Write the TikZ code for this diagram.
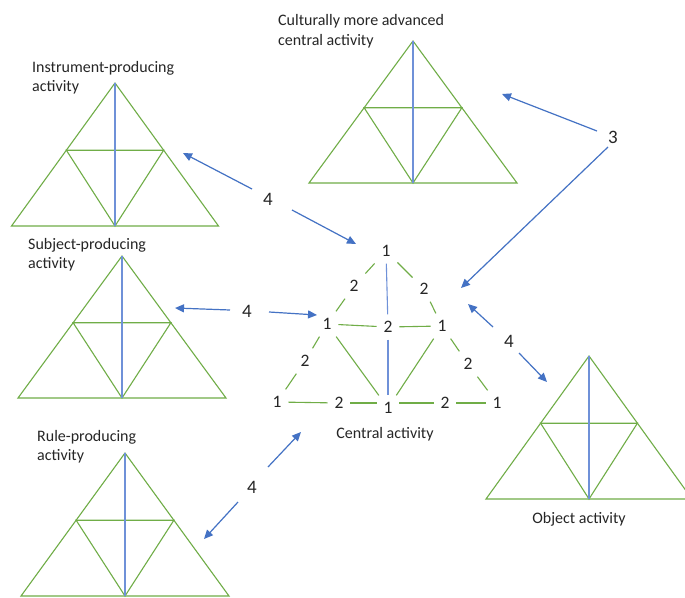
\documentclass[tikz,border=0pt]{standalone}
\usepackage{fontspec}
\setmainfont{Carlito}
\usetikzlibrary{arrows.meta,calc}
\definecolor{tgreen}{HTML}{70AD47}
\definecolor{tblue}{HTML}{6F91D8}
\definecolor{abl}{HTML}{4472C4}
\definecolor{txt}{HTML}{262626}
% apex x, apex y, half width, height
\newcommand\subtri[4]{%
  \coordinate (A) at (#1,#2);
  \coordinate (L) at (#1-#3,#2+#4);
  \coordinate (R) at (#1+#3,#2+#4);
  \coordinate (M) at (#1,#2+#4);
  \draw[tri] (A) -- (L) -- (R) -- cycle;
  \draw[tri] ($(A)!0.47!(L)$) -- ($(A)!0.47!(R)$) -- (M) -- cycle;
  \draw[vln] (A) -- (M);
}
\begin{document}
\begin{tikzpicture}[x=1pt,y=-1pt,
  tri/.style={draw=tgreen, line width=1.1pt},
  vln/.style={draw=tblue, line width=1.1pt},
  cg/.style={draw=tgreen, line width=1.1pt},
  cb/.style={draw=tblue, line width=1.1pt},
  arr/.style={draw=abl, line width=1.2pt, -{Triangle[length=9pt,width=8pt]}},
  lbl/.style={inner sep=0pt, text=txt, font=\fontsize{16}{20}\selectfont, anchor=base west},
  clbl/.style={inner sep=0pt, text=txt, font=\fontsize{16}{20}\selectfont, anchor=base},
  num/.style={inner sep=3pt, outer sep=4pt, text=txt, font=\fontsize{17.5}{20}\selectfont},
  anum/.style={inner sep=3pt, outer sep=4pt, text=txt, font=\fontsize{19}{22}\selectfont},
  ]
\clip (0,0) rectangle (685,597);
\fill[white] (0,0) rectangle (685,597);

% satellite triangles
\subtri{413}{41}{104}{142}
\subtri{115}{83}{103.5}{143}
\subtri{122}{256}{104}{142}
\subtri{125}{453}{104}{143}
\subtri{589}{356}{103}{143}

% labels
\node[lbl] (lc1) at (278,25) {Culturally more advanced};
\node[lbl] (lc2) at (278,45) {central activity};
\node[lbl] (li1) at (32,72) {Instrument-producing};
\node[lbl] (li2) at (32,91) {activity};
\node[lbl] (ls1) at (28,249) {Subject-producing};
\node[lbl] (ls2) at (28,268) {activity};
\node[lbl] (lr1) at (37,441) {Rule-producing};
\node[lbl] (lr2) at (37,460) {activity};
\node[clbl] (lo) at (579,523) {Object activity};
\node[clbl] (lca) at (385,438) {Central activity};

% central triangle numbers
\node[num] (c1t) at (386,251) {1};
\node[num] (c2ul) at (354,286) {2};
\node[num] (c2ur) at (424,289) {2};
\node[num] (c1ml) at (327,324) {1};
\node[num] (c2c) at (388,327) {2};
\node[num] (c1mr) at (442,326) {1};
\node[num] (c2ll) at (305,361) {2};
\node[num] (c2lr) at (468,364) {2};
\node[num] (c1bl) at (277,402) {1};
\node[num] (c2bl) at (339,403) {2};
\node[num] (c1bc) at (388,408) {1};
\node[num] (c2br) at (445,403) {2};
\node[num] (c1br) at (497,403) {1};

% central triangle lines
\draw[cg] (c1t) -- (c2ul);
\draw[cg] (c2ul) -- (c1ml);
\draw[cg] (c1ml) -- (c2ll);
\draw[cg] (c2ll) -- (c1bl);
\draw[cg] (c1t) -- (c2ur);
\draw[cg] (c2ur) -- (c1mr);
\draw[cg] (c1mr) -- (c2lr);
\draw[cg] (c2lr) -- (c1br);
\draw[cg] (c1bl) -- (c2bl);
\draw[cg] (c2bl) -- (c1bc.west |- c2bl.east);
\draw[cg] (c1bc.east |- c2br.west) -- (c2br);
\draw[cg] (c2br) -- (c1br);
\draw[cg] (c1ml) -- (c2c);
\draw[cg] (c2c) -- (c1mr);
\draw[cg] (c1ml) -- (c1bc);
\draw[cg] (c1mr) -- (c1bc);
\draw[cb] (c1t) -- (c2c);
\draw[cb] (c2c) -- (c1bc);

% arrow labels
\node[anum] (n4a) at (268,199) {4};
\node[anum] (n4b) at (247,311) {4};
\node[anum] (n3) at (613,137) {3};
\node[anum] (n4c) at (509,341) {4};
\node[anum] (n4d) at (252,487) {4};

% arrow ends
\coordinate (t4a1) at (252,189);
\coordinate (h4a1) at (183,153);
\coordinate (t4a2) at (292,210);
\coordinate (h4a2) at (356,244);
\coordinate (t4b1) at (230,310);
\coordinate (h4b1) at (175,308);
\coordinate (t4b2) at (269,312);
\coordinate (h4b2) at (317,315);
\coordinate (t31) at (597,131);
\coordinate (h31) at (502,94);
\coordinate (t32) at (608,147);
\coordinate (h32) at (461,288);
\coordinate (t4c1) at (493,327);
\coordinate (h4c1) at (468,304);
\coordinate (t4c2) at (519,353);
\coordinate (h4c2) at (547,382);
\coordinate (t4d1) at (268,467);
\coordinate (h4d1) at (301,432);
\coordinate (t4d2) at (238,502);
\coordinate (h4d2) at (204,539);

\draw[arr] (t4a1) -- (h4a1);
\draw[arr] (t4a2) -- (h4a2);
\draw[arr] (t4b1) -- (h4b1);
\draw[arr] (t4b2) -- (h4b2);
\draw[arr] (t31) -- (h31);
\draw[arr] (t32) -- (h32);
\draw[arr] (t4c1) -- (h4c1);
\draw[arr] (t4c2) -- (h4c2);
\draw[arr] (t4d1) -- (h4d1);
\draw[arr] (t4d2) -- (h4d2);
\end{tikzpicture}
\end{document}
